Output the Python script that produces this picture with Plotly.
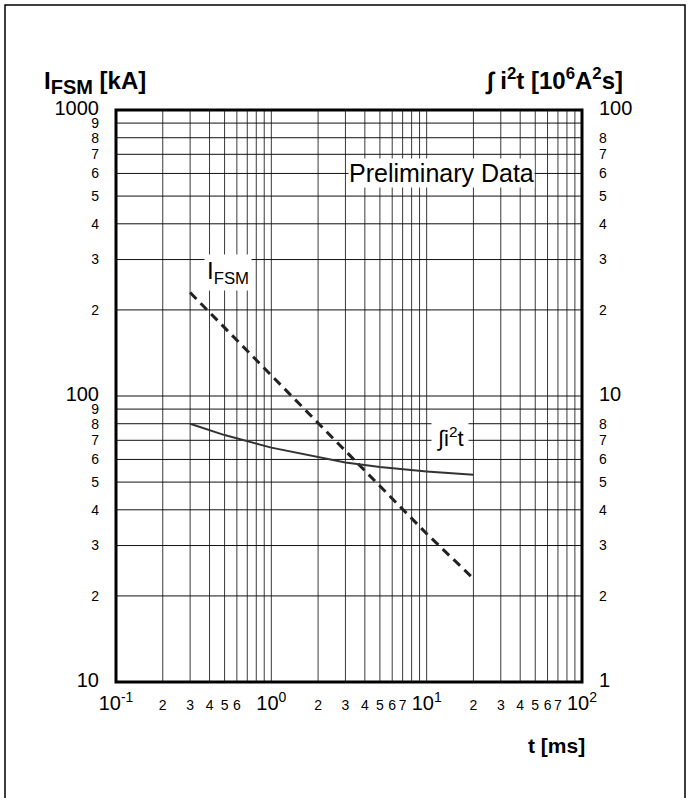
import plotly.graph_objects as go

# ---- data ----
t_ifsm = [0.3, 1.0, 3.0, 10.0, 20.0]
ifsm_kA = [230, 118, 64, 33, 23]

t_i2t = [0.3, 0.5, 1.0, 2.0, 3.0, 5.0, 10.0, 20.0]
i2t_vals = [8.0, 7.3, 6.6, 6.1, 5.85, 5.65, 5.45, 5.3]

x_decades = [0.1, 1, 10, 100]
x_decade_labels = ["10<sup>-1</sup>", "10<sup>0</sup>", "10<sup>1</sup>", "10<sup>2</sup>"]
x_minor_labelled = {0.1: [2, 3, 4, 5, 6], 1: [2, 3, 4, 5, 6, 7], 10: [2, 3, 4, 5, 6, 7]}

y_left_decades = [10, 100, 1000]
y_right_decades = [1, 10, 100]

FONT = "Liberation Sans, Arial, sans-serif"
BIG = 20
SMALL = 14

def big(s):
    return f"<span style='font-size:{BIG}px'>{s}</span>"

def small(s):
    return f"<span style='font-size:{SMALL}px'>{s}</span>"

# x ticks (labels)
xtv, xtt = [], []
for d, lab in zip(x_decades, x_decade_labels):
    xtv.append(d); xtt.append(big(lab))
    if d in x_minor_labelled:
        for m in x_minor_labelled[d]:
            xtv.append(d * m); xtt.append(small(str(m)))

# left y ticks
ytv, ytt = [], []
for d in y_left_decades:
    ytv.append(d); ytt.append(big(str(d)))
    if d < 1000:
        for m in range(2, 10):
            ytv.append(d * m); ytt.append(small(str(m)))

# right y ticks (no 9)
y2tv, y2tt = [], []
for d in y_right_decades:
    y2tv.append(d); y2tt.append(big(str(d)))
    if d < 100:
        for m in range(2, 9):
            y2tv.append(d * m); y2tt.append(small(str(m)))

# gridline positions
xgrid = [d * m for d in [0.1, 1, 10] for m in range(1, 10)] + [100]
ygrid = [d * m for d in [10, 100] for m in range(1, 10)] + [1000]

fig = go.Figure()

fig.add_trace(go.Scatter(x=t_ifsm, y=ifsm_kA, mode="lines",
                         line=dict(color="#222222", width=3, dash="9px,6px"),
                         yaxis="y", showlegend=False))
fig.add_trace(go.Scatter(x=t_i2t, y=i2t_vals, mode="lines",
                         line=dict(color="#333333", width=2),
                         yaxis="y2", showlegend=False))

fig.update_layout(
    width=691, height=798,
    margin=dict(l=116, r=109, t=110, b=116),
    paper_bgcolor="white", plot_bgcolor="white",
    font=dict(family=FONT, color="black"),
    xaxis=dict(type="log", range=[-1, 2], tickvals=xtv, ticktext=xtt,
               showgrid=False, zeroline=False, ticks="", showline=False,
               ticklabelstandoff=13, tickfont=dict(size=SMALL, family=FONT, color="black")),
    yaxis=dict(type="log", range=[1, 3], tickvals=ytv, ticktext=ytt,
               showgrid=False, zeroline=False, ticks="", showline=False,
               ticklabelstandoff=16, tickfont=dict(size=SMALL, family=FONT, color="black")),
    yaxis2=dict(type="log", range=[0, 2], overlaying="y", side="right",
                tickvals=y2tv, ticktext=y2tt, showgrid=False, zeroline=False,
                ticks="", showline=False, ticklabelstandoff=16,
                tickfont=dict(size=SMALL, family=FONT, color="black")),
)

shapes = []
for xv in xgrid:
    shapes.append(dict(type="line", xref="x", yref="paper", x0=xv, x1=xv,
                       y0=0, y1=1, line=dict(color="#3a3a3a", width=1), layer="below"))
for yv in ygrid:
    shapes.append(dict(type="line", xref="paper", yref="y", x0=0, x1=1,
                       y0=yv, y1=yv, line=dict(color="#111111", width=1), layer="below"))
# plot border
shapes.append(dict(type="rect", xref="paper", yref="paper", x0=0, x1=1, y0=0, y1=1,
                   line=dict(color="black", width=3)))
# outer frame
shapes.append(dict(type="rect", xref="paper", yref="paper",
                   x0=(5 - 116) / 466, x1=(685 - 116) / 466,
                   y0=-0.3, y1=(682 - 5) / 572,
                   line=dict(color="black", width=1.5)))
fig.update_layout(shapes=shapes)

ann = []
ann.append(dict(text="<b>I<sub><span style='font-size:20px'>FSM</span></sub> [kA]</b>",
                xref="paper", yref="paper",
                x=(42 - 116) / 466, y=(682 - 82) / 572, xanchor="left", yanchor="middle",
                showarrow=False, font=dict(size=24, family=FONT)))
ann.append(dict(text="<b>∫ i<sup>2</sup>t [10<sup>6</sup>A<sup>2</sup>s]</b>", xref="paper", yref="paper",
                x=(625 - 116) / 466, y=(682 - 80) / 572, xanchor="right", yanchor="middle",
                showarrow=False, font=dict(size=24, family=FONT)))
ann.append(dict(text="<b>t [ms]</b>", xref="paper", yref="paper",
                x=(587 - 116) / 466, y=(682 - 745) / 572, xanchor="right", yanchor="middle",
                showarrow=False, font=dict(size=21, family=FONT)))
ann.append(dict(text="Preliminary Data", xref="paper", yref="paper",
                x=(441 - 116) / 466, y=(682 - 173) / 572, xanchor="center", yanchor="middle",
                showarrow=False, bgcolor="white", borderpad=0,
                font=dict(size=25, family=FONT)))
ann.append(dict(text="I<sub>FSM</sub>", xref="paper", yref="paper",
                x=(228 - 116) / 466, y=(682 - 272) / 572, xanchor="center", yanchor="middle",
                showarrow=False, bgcolor="white", borderpad=2,
                font=dict(size=24, family=FONT)))
ann.append(dict(text="∫i<sup>2</sup>t", xref="paper", yref="paper",
                x=(450 - 116) / 466, y=(682 - 437) / 572, xanchor="center", yanchor="middle",
                showarrow=False, bgcolor="white", borderpad=4,
                font=dict(size=22, family=FONT)))
fig.update_layout(annotations=ann)

fig.write_html("out.html")
